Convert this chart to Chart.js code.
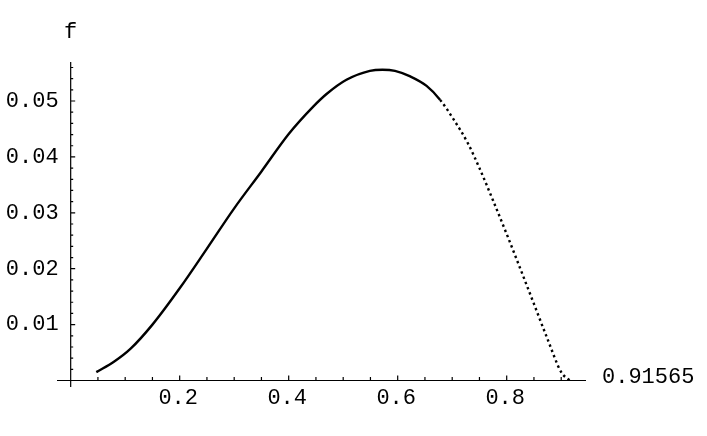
<!DOCTYPE html>
<html>
<head>
<meta charset="utf-8">
<script src="https://cdn.jsdelivr.net/npm/chart.js@4.4.1/dist/chart.umd.min.js"></script>
<style>
  html, body { margin: 0; padding: 0; background: #fff; }
  #wrap { width: 707px; height: 436px; }
</style>
</head>
<body>
<div id="wrap"><canvas id="grafico"></canvas></div>
<script>
// Datos
const xValues = [0.047, 0.08, 0.11, 0.15, 0.2, 0.25, 0.3, 0.35, 0.4, 0.445,
    0.47, 0.506, 0.549, 0.572, 0.595, 0.623, 0.653, 0.678, 0.702, 0.729,
    0.75, 0.775, 0.8, 0.825, 0.85, 0.875, 0.9, 0.91565];
const fValues = [0.0015, 0.0034, 0.0057, 0.0100, 0.0165, 0.0236, 0.0308, 0.0374, 0.0441, 0.0490,
    0.0513, 0.0538, 0.0554, 0.0556, 0.0554, 0.0544, 0.0527, 0.0502, 0.0468, 0.0424,
    0.0380, 0.0322, 0.0262, 0.0200, 0.0137, 0.0074, 0.0015, 0];

const xTickLabels = [0.2, 0.4, 0.6, 0.8];
const yTickLabels = [0.01, 0.02, 0.03, 0.04, 0.05];
const xMinorTicks = [0.05, 0.1, 0.15, 0.25, 0.3, 0.35, 0.45, 0.5, 0.55, 0.65, 0.7, 0.75, 0.85, 0.9];
const yMinorTicks = [0.002, 0.004, 0.006, 0.008, 0.012, 0.014, 0.016, 0.018, 0.022, 0.024, 0.026, 0.028,
    0.032, 0.034, 0.036, 0.038, 0.042, 0.044, 0.046, 0.048, 0.052, 0.054, 0.056];
const xEndLabel = '0.91565';
const yAxisLabel = 'f';

const puntos = xValues.map((x, i) => ({ x: x, y: fValues[i] }));
const fuente = '22px "Liberation Mono", "DejaVu Sans Mono", monospace';

// Ejes al estilo Mathematica (cruzan en el origen)
const ejesPlugin = {
    id: 'ejes',
    afterDraw(chart) {
        const ctx = chart.ctx;
        const xs = chart.scales.x;
        const ys = chart.scales.y;
        const area = chart.chartArea;
        const x0 = xs.getPixelForValue(0);
        const y0 = ys.getPixelForValue(0);
        ctx.save();
        ctx.strokeStyle = '#000';
        ctx.lineWidth = 1.2;
        ctx.beginPath();
        ctx.moveTo(area.left, y0);
        ctx.lineTo(area.right, y0);
        ctx.moveTo(x0, area.top);
        ctx.lineTo(x0, area.bottom);
        // marcas eje x
        xTickLabels.forEach(v => {
            const px = xs.getPixelForValue(v);
            ctx.moveTo(px, y0); ctx.lineTo(px, y0 - 5);
        });
        xMinorTicks.forEach(v => {
            const px = xs.getPixelForValue(v);
            ctx.moveTo(px, y0); ctx.lineTo(px, y0 - 3.5);
        });
        // marcas eje y
        yTickLabels.forEach(v => {
            const py = ys.getPixelForValue(v);
            ctx.moveTo(x0, py); ctx.lineTo(x0 + 4.5, py);
        });
        yMinorTicks.forEach(v => {
            const py = ys.getPixelForValue(v);
            ctx.moveTo(x0, py); ctx.lineTo(x0 + 2.5, py);
        });
        ctx.stroke();

        ctx.fillStyle = '#000';
        ctx.font = fuente;
        ctx.textBaseline = 'middle';
        ctx.textAlign = 'center';
        xTickLabels.forEach(v => {
            ctx.fillText(v.toString(), xs.getPixelForValue(v) - 1.5, y0 + 18);
        });
        ctx.textAlign = 'right';
        yTickLabels.forEach(v => {
            ctx.fillText(v.toFixed(2), x0 - 12, ys.getPixelForValue(v));
        });
        ctx.textAlign = 'left';
        ctx.fillText(xEndLabel, area.right + 16, y0 - 3);
        ctx.textAlign = 'center';
        ctx.textBaseline = 'alphabetic';
        ctx.fillText(yAxisLabel, x0, area.top - 24);
        ctx.restore();
    }
};

const grafico = new Chart(document.getElementById('grafico'), {
    type: 'scatter',
    data: {
        datasets: [{
            data: puntos,
            showLine: true,
            borderColor: '#000',
            borderWidth: 2.4,
            pointRadius: 0,
            cubicInterpolationMode: 'monotone',
            segment: {
                borderDash: c => c.p0.parsed.x >= 0.678 ? [2.4, 3.2] : undefined
            }
        }]
    },
    options: {
        responsive: true,
        maintainAspectRatio: false,
        animation: false,
        layout: { padding: { left: 57, right: 121, top: 62, bottom: 49 } },
        plugins: { legend: { display: false }, tooltip: { enabled: false } },
        scales: {
            x: { type: 'linear', display: false, min: -0.0251, max: 0.9455 },
            y: { type: 'linear', display: false, min: -0.00116, max: 0.05698 }
        }
    },
    plugins: [ejesPlugin]
});
</script>
</body>
</html>
